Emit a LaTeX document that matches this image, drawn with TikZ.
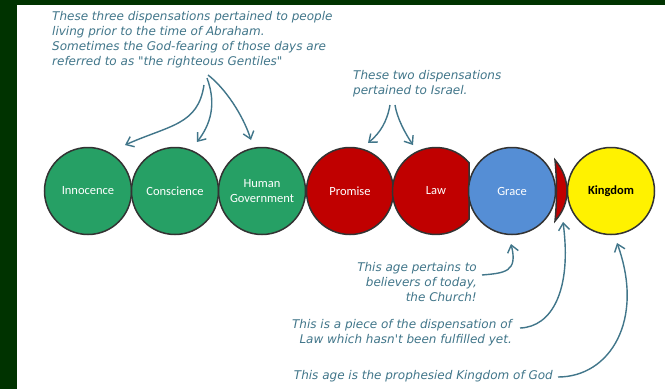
\documentclass[tikz,border=0pt]{standalone}
\usepackage{fontspec}
\usepackage{tikz}
\usetikzlibrary{arrows.meta}
\setmainfont{Carlito}
\newfontfamily\notefont{DejaVu Sans}
\definecolor{bgdark}{HTML}{003300}
\definecolor{notecol}{HTML}{41768A}
\definecolor{agegreen}{HTML}{26A065}
\definecolor{agered}{HTML}{C00000}
\definecolor{ageblue}{HTML}{558ED5}
\definecolor{rimcol}{HTML}{333333}

\begin{document}
\begin{tikzpicture}[x=1pt, y=-1pt,
        age/.style = {draw=rimcol, circle, line width=1.5pt, minimum size=87pt, inner sep=0pt, align=center, text=white, font=\fontsize{12.5}{15}\selectfont},
        note/.style = {text=notecol, inner sep=0pt, font=\notefont\itshape\fontsize{12}{15.1}\selectfont},
        pointer/.style = {draw=notecol, line width=1.4pt, -{Straight Barb[length=7pt,width=11pt]}}]
        \useasboundingbox (0,0) rectangle (665,389);
        \fill[bgdark] (0,0) rectangle (665,389);
        \fill[white] (17,5) rectangle (665,389);
        \node[age, fill=agegreen] (inno) at (88,191) {Innocence};
        \node[age, fill=agegreen] (consc) at (175,191) {Conscience};
        \node[age, fill=agegreen] (human) at (262,191) {Human\\Government};
        \node[age, fill=agered] (prom) at (350,191) {Promise};
        % the law circle is cut off, its last piece stands apart
        \fill[agered, draw=rimcol, line width=1.5pt] (469,162.7) arc[start angle=40.6, end angle=319.4, radius=43.5pt] -- cycle;
        \node[age, draw=none] (law) at (436,191) {Law};
        \node[age, fill=ageblue] (grace) at (512,191) {Grace};
        \fill[agered, draw=rimcol, line width=1.5pt] (555,160) .. controls (563,169) and (567,180) .. (567,191) .. controls (567,202) and (563,212) .. (555,221) .. controls (557,202) and (557,180) .. (555,160) -- cycle;
        \node[age, fill=yellow, text=black, font=\bfseries\fontsize{12.5}{15}\selectfont] (king) at (611,191) {Kingdom};
        \node[note, align=left, anchor=north west] (early) at (52,11) {These three dispensations pertained to people\\living prior to the time of Abraham.\\Sometimes the God-fearing of those days are\\referred to as "the righteous Gentiles"};
        \node[note, align=left, anchor=north west] (israel) at (353,70) {These two dispensations\\pertained to Israel.};
        \node[note, align=right, anchor=north east] (church) at (477,262) {This age pertains to\\believers of today,\\the Church!};
        \node[note, align=right, anchor=north east] (piece) at (512,319) {This is a piece of the dispensation of\\Law which hasn't been fulfilled yet.};
        \node[note, anchor=north east] (kingnote) at (553,370) {This age is the prophesied Kingdom of God};
        \coordinate (e1) at (204,85);
        \coordinate (e2) at (207,78);
        \coordinate (e3) at (208,75);
        \coordinate (i1) at (390,105);
        \coordinate (i2) at (395,105);
        \coordinate (g1) at (482,275);
        \coordinate (p1) at (520,328);
        \coordinate (k1) at (558,377);
        \coordinate (t1) at (125,145);
        \coordinate (t2) at (197,142);
        \coordinate (t3) at (251,140);
        \coordinate (t4) at (368,143);
        \coordinate (t5) at (413,145);
        \coordinate (t6) at (511,244);
        \coordinate (t7) at (563,222);
        \coordinate (t8) at (617,243);
        \draw[pointer] (e1) .. controls (198,125) and (170,125) .. (t1);
        \draw[pointer] (e2) .. controls (217,105) and (210,125) .. (t2);
        \draw[pointer] (e3) .. controls (225,88) and (243,115) .. (t3);
        \draw[pointer] (i1) .. controls (387,122) and (380,133) .. (t4);
        \draw[pointer] (i2) .. controls (397,118) and (405,133) .. (t5);
        \draw[pointer] (g1) .. controls (505,273) and (518,272) .. (t6);
        \draw[pointer] (p1) .. controls (552,327) and (572,290) .. (t7);
        \draw[pointer] (k1) .. controls (610,377) and (645,320) .. (t8);
    \end{tikzpicture}
\end{document}
